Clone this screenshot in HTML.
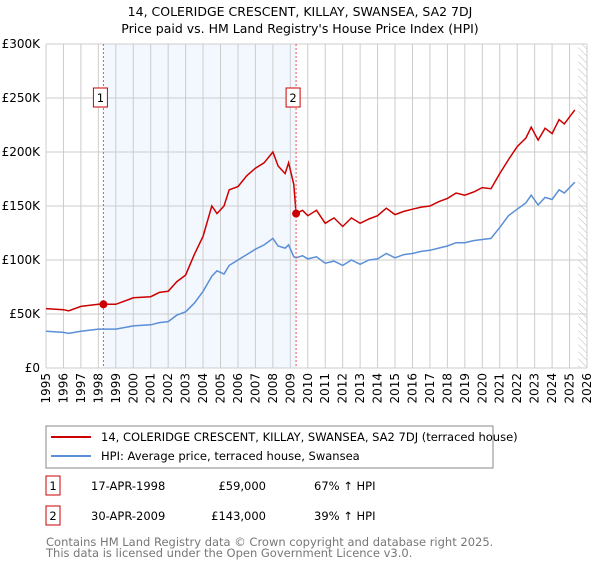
<!DOCTYPE html>
<html><head><meta charset="utf-8"><style>
body{margin:0;background:#fff;font-family:"Liberation Sans","DejaVu Sans",sans-serif;}
svg text{font-family:"DejaVu Sans","Liberation Sans",sans-serif;}
</style></head><body>
<svg width="600" height="560" xmlns="http://www.w3.org/2000/svg">
<defs><pattern id="hatch" width="5" height="5" patternUnits="userSpaceOnUse" patternTransform="rotate(-45)"><line x1="0" y1="0" x2="0" y2="5" stroke="#bbb" stroke-width="1"/></pattern></defs>
<text x="300" y="16" text-anchor="middle" font-size="12.5">14, COLERIDGE CRESCENT, KILLAY, SWANSEA, SA2 7DJ</text>
<text x="300" y="33" text-anchor="middle" font-size="12.5">Price paid vs. HM Land Registry's House Price Index (HPI)</text>
<g id="plot"></g>
<g>
<rect x="46" y="426" width="447" height="42" fill="#fff" stroke="#888"/>
<line x1="51" y1="437" x2="91" y2="437" stroke="#cc0000" stroke-width="2"/>
<text x="101" y="441" font-size="11.5">14, COLERIDGE CRESCENT, KILLAY, SWANSEA, SA2 7DJ (terraced house)</text>
<line x1="51" y1="456" x2="91" y2="456" stroke="#5b8fd6" stroke-width="2"/>
<text x="101" y="460" font-size="11.5">HPI: Average price, terraced house, Swansea</text>
</g>
<g font-size="11.5">
<rect x="46" y="476" width="14" height="19" fill="#fff" stroke="#cc0000"/><text x="53" y="490" text-anchor="middle">1</text>
<text x="91" y="490">17-APR-1998</text><text x="266" y="490" text-anchor="end">£59,000</text><text x="314" y="490">67% ↑ HPI</text>
<rect x="46" y="506" width="14" height="19" fill="#fff" stroke="#cc0000"/><text x="53" y="520" text-anchor="middle">2</text>
<text x="91" y="520">30-APR-2009</text><text x="266" y="520" text-anchor="end">£143,000</text><text x="314" y="520">39% ↑ HPI</text>
</g>
<text x="46" y="546" font-size="11.5" fill="#777">Contains HM Land Registry data © Crown copyright and database right 2025.</text>
<text x="46" y="557" font-size="11.5" fill="#777">This data is licensed under the Open Government Licence v3.0.</text>
</svg>
<script>
const redT=[1995,1996,1996.3,1997,1998,1998.3,1999,2000,2001,2001.5,2002,2002.5,2003,2003.5,2004,2004.5,2004.8,2005.2,2005.5,2006,2006.5,2007,2007.5,2008,2008.3,2008.7,2008.9,2009.2,2009.33,2009.7,2010,2010.5,2011,2011.5,2012,2012.5,2013,2013.5,2014,2014.5,2015,2015.5,2016,2016.5,2017,2017.5,2018,2018.5,2019,2019.5,2020,2020.5,2021,2021.5,2022,2022.5,2022.8,2023.2,2023.6,2024,2024.4,2024.7,2025.3];
const redV=[55,54,53,57,59,59,59,65,66,70,71,80,86,105,122,150,143,150,165,168,178,185,190,200,187,180,190,170,143,146,141,146,134,139,131,139,134,138,141,148,142,145,147,149,150,154,157,162,160,163,167,166,180,193,205,213,223,211,222,217,230,226,239];
const blueV=[34,33,32,34,36,36,36,39,40,42,43,49,52,60,71,85,90,87,95,100,105,110,114,120,113,111,114,103,102,104,101,103,97,99,95,100,96,100,101,106,102,105,106,108,109,111,113,116,116,118,119,120,130,141,147,153,160,151,158,156,165,162,172];
const yTicks=[0,50,100,150,200,250,300];
const years=[];for(let y=1995;y<=2026;y++)years.push(y);
const sales=[{n:"1",t:1998.29,v:59},{n:"2",t:2009.33,v:143}];
const L=46,R=587,T=44,B=368;
const X=t=>L+(t-1995)/(2026-1995)*(R-L);
const Y=v=>B-v/300*(B-T);
const NS="http://www.w3.org/2000/svg";
const g=document.getElementById('plot');
function mk(tag,a,p){const e=document.createElementNS(NS,tag);for(const k in a)e.setAttribute(k,a[k]);(p||g).appendChild(e);return e;}
let e=mk('rect',{x:X(1998.29),y:T,width:X(2009.33)-X(1998.29),height:B-T,fill:'#eef3fd',opacity:0.7});


e=mk('rect',{x:X(2025.5),y:T,width:R-X(2025.5),height:B-T,fill:'url(#hatch)'});


years.forEach(y=>{
 const l=mk('line',{x1:X(y),x2:X(y),y1:T,y2:B,stroke:'#ccc'});
 
 
 const t=mk('text',{x:0,y:0,'font-size':12,'text-anchor':'end',transform:`translate(${X(y)+4},${B+5}) rotate(-90)`});
 t.textContent=y;
 
 
});
yTicks.forEach(v=>{
 const l=mk('line',{x1:L,x2:R,y1:Y(v),y2:Y(v),stroke:'#ccc'});
 
 
 const t=mk('text',{x:L-6,y:Y(v)+4,'font-size':12,'text-anchor':'end'});
 t.textContent=v===0?'£0':'£'+v+'K';
 
 
});
function path(vals,col,name){
 const d=vals.map((v,i)=>(i?'L':'M')+X(redT[i]).toFixed(1)+','+Y(v).toFixed(1)).join('');
 const p=mk('path',{d:d,fill:'none',stroke:col,'stroke-width':1.5});
 
 
}
path(blueV,'#5b8fd6','hpi-line');
path(redV,'#cc0000','property-price-line');
sales.forEach(s=>{
 const l=mk('line',{x1:X(s.t),x2:X(s.t),y1:T,y2:B,stroke:'#e55','stroke-dasharray':'2,2'});
 
 
 const c=mk('circle',{cx:X(s.t),cy:Y(s.v),r:4,fill:'#cc0000'});
 
 
 const r=mk('rect',{x:X(s.t)-10,y:Y(250)-10,width:14,height:19,fill:'#fff',stroke:'#cc0000'});
 
 
 const t=mk('text',{x:X(s.t)-3,y:Y(250)+4,'font-size':11.5,'text-anchor':'middle'});
 t.textContent=s.n;
 
 
});
</script>
</body></html>
